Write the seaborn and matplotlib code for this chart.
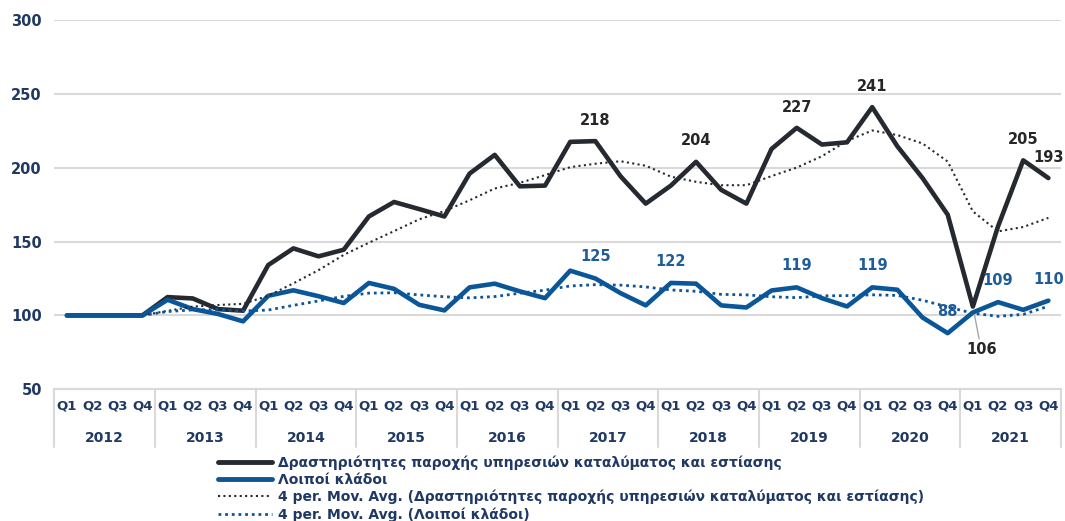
import numpy as np
import pandas as pd
import matplotlib
matplotlib.use("Agg")
import matplotlib.pyplot as plt
from matplotlib.lines import Line2D
import seaborn as sns

# ---------------- data ----------------
years = ['2012', '2013', '2014', '2015', '2016', '2017', '2018', '2019', '2020', '2021']
quarters = ['Q1', 'Q2', 'Q3', 'Q4']

hospitality = [100, 100, 100, 100, 112.4, 111.5, 104.3, 103.2,
               134.1, 145.4, 140.0, 144.5, 167.0, 176.8, 172.0, 167.0,
               196.0, 208.7, 187.4, 187.9, 217.5, 218.0, 194.2, 175.7,
               187.9, 204.0, 185.0, 175.7, 212.7, 227.0, 215.7, 217.2,
               241.0, 214.5, 193.0, 168.2, 106.0, 160.3, 205.0, 193.0]

others = [100, 100, 100, 100, 110.6, 104.3, 101.0, 96.0,
          113.3, 117.0, 113.0, 108.4, 122.0, 118.0, 107.2, 103.4,
          119.0, 121.5, 116.3, 111.7, 130.3, 125.0, 115.1, 106.8,
          122.0, 121.5, 106.8, 105.4, 116.9, 119.0, 111.7, 106.1,
          119.0, 117.4, 98.6, 88.0, 102.0, 109.0, 103.8, 110.0]

hosp_labels = [21, 25, 29, 32, 36, 38, 39]
other_labels = [21, 24, 29, 32, 35, 37, 39]

series_names = ['Δραστηριότητες παροχής υπηρεσιών καταλύματος και εστίασης',
                'Λοιποί κλάδοι',
                '4 per. Mov. Avg. (Δραστηριότητες παροχής υπηρεσιών καταλύματος και εστίασης)',
                '4 per. Mov. Avg. (Λοιποί κλάδοι)']

# ---------------- styling ----------------
NAVY = '#1F3864'
BLACK = '#252A31'
BLUE = '#0A5699'
BLUE_TXT = '#1E5C9A'
GRID = '#D9D9D9'

sns.set_theme(style='white')
plt.rcParams['font.family'] = ['DejaVu Sans']
plt.rcParams['font.weight'] = 'bold'

df = pd.DataFrame({'idx': np.arange(len(hospitality)),
                   'hosp': hospitality, 'oth': others})
df['hosp_ma'] = df['hosp'].rolling(4).mean()
df['oth_ma'] = df['oth'].rolling(4).mean()

fig = plt.figure(figsize=(10.65, 5.21), dpi=100)
ax = fig.add_axes([0.051, 0.2528, 0.9452, 0.7088])

sns.lineplot(data=df, x='idx', y='hosp', ax=ax, color=BLACK, lw=3.3,
             solid_capstyle='round', solid_joinstyle='round', zorder=3)
sns.lineplot(data=df, x='idx', y='oth', ax=ax, color=BLUE, lw=3.3,
             solid_capstyle='round', solid_joinstyle='round', zorder=4)
sns.lineplot(data=df, x='idx', y='hosp_ma', ax=ax, color=BLACK, lw=1.5,
             linestyle=(0, (1, 1.6)), zorder=5)
sns.lineplot(data=df, x='idx', y='oth_ma', ax=ax, color=BLUE, lw=2.0,
             linestyle=(0, (1, 1.4)), zorder=5)

ax.set_xlim(-0.5, len(hospitality) - 0.5)
ax.set_ylim(50, 300)
ax.set_yticks([50, 100, 150, 200, 250, 300])
ax.yaxis.grid(True, color=GRID, lw=1.5)
ax.xaxis.grid(False)
for s in ['left', 'right', 'top']:
    ax.spines[s].set_visible(False)
ax.spines['bottom'].set_color(GRID)
ax.spines['bottom'].set_linewidth(1.5)
ax.set_xlabel('')
ax.set_ylabel('')
ax.tick_params(axis='y', length=0, pad=9, labelsize=10.5, labelcolor=NAVY)

xt = [i * 4 + q for i in range(len(years)) for q in range(4)]
ax.set_xticks(xt)
ax.set_xticklabels([quarters[q] for _ in years for q in range(4)])
ax.tick_params(axis='x', length=0, pad=7, labelsize=9.5, labelcolor=NAVY)
for lab in ax.get_yticklabels() + ax.get_xticklabels():
    lab.set_fontweight('bold')

# category table (year groups)
ax_h_px = 0.7088 * 521
tr = ax.get_xaxis_transform()
for k in range(len(years) + 1):
    xs = k * 4 - 0.5
    ax.plot([xs, xs], [0, -58 / ax_h_px], transform=tr, color=GRID, lw=1.5,
            clip_on=False, zorder=1)
for k, y in enumerate(years):
    ax.text(k * 4 + 1.5, -49 / ax_h_px, y, transform=tr, ha='center', va='center',
            fontsize=10, fontweight='bold', color=NAVY)

# data labels
for i in hosp_labels:
    v = hospitality[i]
    if i == 36:
        ax.annotate(f'{v:.0f}', xy=(i, v), xytext=(6, -31), textcoords='offset points',
                    ha='center', va='center', fontsize=10.5, fontweight='bold',
                    color='#262626', zorder=6,
                    arrowprops=dict(arrowstyle='-', color='#A6A6A6', lw=1,
                                    shrinkA=0, shrinkB=6))
    else:
        ax.annotate(f'{v:.0f}', xy=(i, v), xytext=(0, 15), textcoords='offset points',
                    ha='center', va='center', fontsize=10.5, fontweight='bold',
                    color='#262626', zorder=6)
for i in other_labels:
    v = others[i]
    ax.annotate(f'{v:.0f}', xy=(i, v), xytext=(0, 15.5), textcoords='offset points',
                ha='center', va='center', fontsize=10.5, fontweight='bold',
                color=BLUE_TXT, zorder=6)

# legend
handles = [Line2D([], [], color=BLACK, lw=3.5, solid_capstyle='round'),
           Line2D([], [], color=BLUE, lw=3.5, solid_capstyle='round'),
           Line2D([], [], color=BLACK, lw=1.5, linestyle=(0, (1, 1.6))),
           Line2D([], [], color=BLUE, lw=2.0, linestyle=(0, (1, 1.4)))]
leg = fig.legend(handles, series_names, loc='upper left',
                 bbox_to_anchor=(218 / 1065, (521 - 455) / 521),
                 frameon=False, fontsize=10, handlelength=3.9, handletextpad=0.45,
                 labelspacing=0.22, borderpad=0, borderaxespad=0)
for t in leg.get_texts():
    t.set_color(NAVY)
    t.set_fontweight('bold')

fig.savefig('out.png', dpi=100)
